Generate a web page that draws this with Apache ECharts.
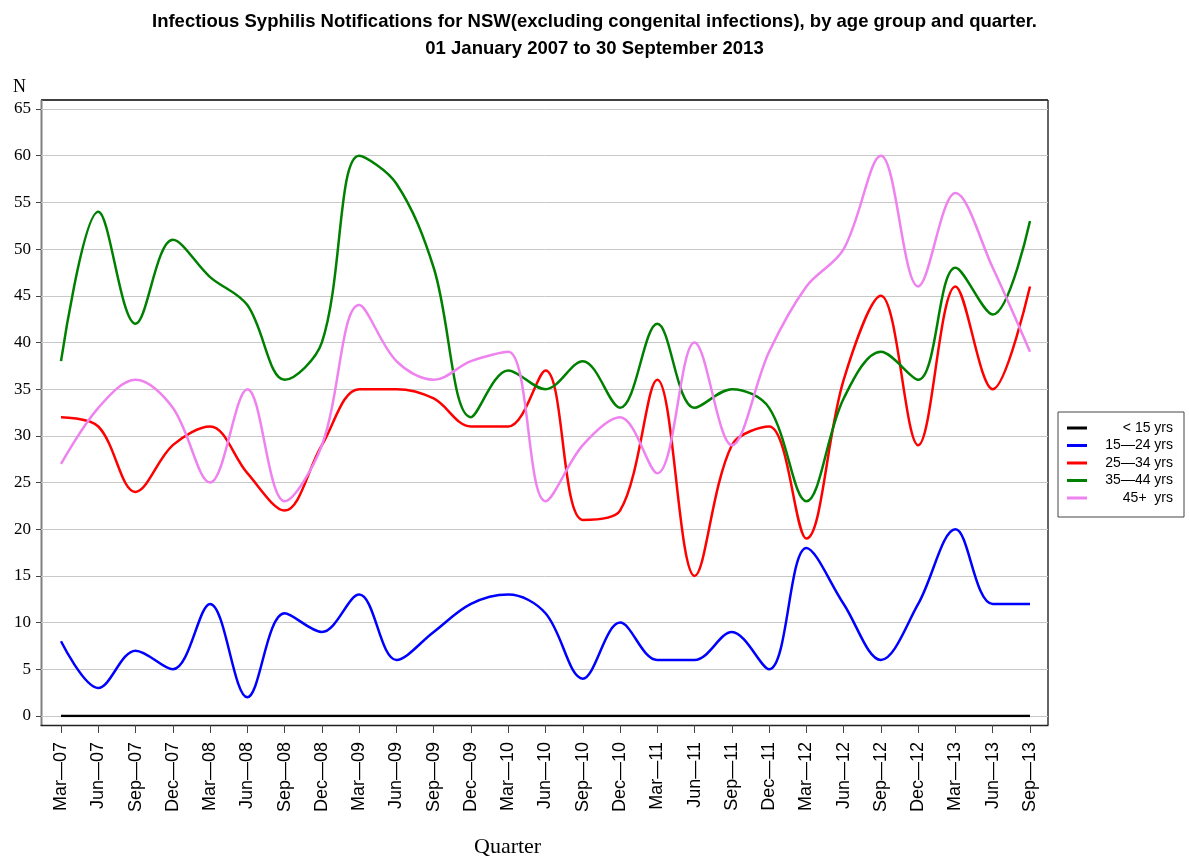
<!DOCTYPE html>
<html>
<head>
<meta charset="utf-8">
<title>Infectious Syphilis Notifications for NSW</title>
<script src="https://cdn.jsdelivr.net/npm/echarts@6/dist/echarts.min.js"></script>
<style>
    html, body { margin: 0; padding: 0; background: #fff; }
    #chart { width: 1189px; height: 859px; }
</style>
</head>
<body>
<div id="chart"></div>
<script>
    // quarters, Mar-07 .. Sep-13
    const quarters = [
        'Mar—07', 'Jun—07', 'Sep—07', 'Dec—07',
        'Mar—08', 'Jun—08', 'Sep—08', 'Dec—08',
        'Mar—09', 'Jun—09', 'Sep—09', 'Dec—09',
        'Mar—10', 'Jun—10', 'Sep—10', 'Dec—10',
        'Mar—11', 'Jun—11', 'Sep—11', 'Dec—11',
        'Mar—12', 'Jun—12', 'Sep—12', 'Dec—12',
        'Mar—13', 'Jun—13', 'Sep—13'
    ];

    const ageGroups = ['< 15 yrs', '15—24 yrs', '25—34 yrs', '35—44 yrs', '45+  yrs'];
    const under15 = [0, 0, 0, 0, 0, 0, 0, 0, 0, 0, 0, 0, 0, 0, 0, 0, 0, 0, 0, 0, 0, 0, 0, 0, 0, 0, 0];
    const age15to24 = [8, 3, 7, 5, 12, 2, 11, 9, 13, 6, 9, 12, 13, 11, 4, 10, 6, 6, 9, 5, 18, 12, 6, 12, 20, 12, 12];
    const age25to34 = [32, 31, 24, 29, 31, 26, 22, 29, 35, 35, 34, 31, 31, 37, 21, 22, 36, 15, 29, 31, 19, 36, 45, 29, 46, 35, 46];
    const age35to44 = [38, 54, 42, 51, 47, 44, 36, 40, 60, 57, 48, 32, 37, 35, 38, 33, 42, 33, 35, 33, 23, 34, 39, 36, 48, 43, 53];
    const age45plus = [27, 33, 36, 33, 25, 35, 23, 29, 44, 38, 36, 38, 39, 23, 29, 32, 26, 40, 29, 39, 46, 50, 60, 46, 56, 48, 39];
    const colors = ['#000000', '#0000ff', '#ff0000', '#008000', '#ee82ee'];

    const allSeries = [under15, age15to24, age25to34, age35to44, age45plus];
    const tickIdx = quarters.map((q, i) => i);
    const toPoints = arr => arr.map((v, i) => [i, v]);

    const sans = 'Liberation Sans, Arial, sans-serif';
    const serif = 'Liberation Serif, Times New Roman, serif';

    const chart = echarts.init(document.getElementById('chart'));
    const option = {
        animation: false,
        backgroundColor: '#fff',
        title: {
            text: 'Infectious Syphilis Notifications for NSW(excluding congenital infections), by age group and quarter.\n01 January 2007 to 30 September 2013',
            left: 'center',
            top: 3,
            textStyle: {
                fontFamily: sans,
                fontWeight: 'bold',
                fontSize: 18.5,
                lineHeight: 27,
                color: '#000'
            }
        },
        legend: {
            orient: 'vertical',
            left: 1058,
            top: 412,
            padding: [9, 11, 12, 9],
            borderColor: '#444',
            borderWidth: 1,
            icon: 'rect',
            itemWidth: 20,
            itemHeight: 3,
            itemGap: 3.5,
            itemTextGap: 5,
            formatter: name => '{r|' + name + '}',
            textStyle: {
                color: '#000',
                fontFamily: sans,
                fontSize: 14,
                lineHeight: 14,
                rich: {
                    r: { width: 81, align: 'right', fontFamily: sans, fontSize: 14, lineHeight: 14, color: '#000' }
                }
            },
            data: ageGroups
        },
        grid: { left: 41, right: 141, top: 109, bottom: 143 },
        xAxis: {
            type: 'value',
            min: -0.537,
            max: 26.483,
            offset: 9,
            axisLine: { onZero: false, lineStyle: { color: '#222', width: 1.3 } },
            axisTick: { length: 8, customValues: tickIdx, lineStyle: { color: '#444' } },
            axisLabel: {
                customValues: tickIdx,
                rotate: 90,
                margin: 17,
                formatter: v => quarters[v],
                fontFamily: sans,
                fontSize: 18,
                color: '#000'
            },
            splitLine: { show: false }
        },
        yAxis: {
            type: 'value',
            min: 0,
            max: 65,
            interval: 5,
            axisLine: { show: false, onZero: false },
            axisTick: { show: true, length: 5, lineStyle: { color: '#444' } },
            axisLabel: { fontFamily: serif, fontSize: 17, color: '#000', margin: 10 },
            splitLine: { lineStyle: { color: '#c8c8c8', width: 1 } }
        },
        graphic: [
            { type: 'line', shape: { x1: 41, y1: 100, x2: 1048, y2: 100 }, style: { stroke: '#000', lineWidth: 1.5 } },
            { type: 'line', shape: { x1: 1048, y1: 100, x2: 1048, y2: 725 }, style: { stroke: '#333', lineWidth: 1.5 } },
            { type: 'line', shape: { x1: 41.5, y1: 100, x2: 41.5, y2: 725 }, style: { stroke: '#808080', lineWidth: 2 } },
            { type: 'text', x: 13, y: 78, style: { text: 'N', font: '18px ' + serif, fill: '#000' } },
            { type: 'text', x: 474, y: 836, style: { text: 'Quarter', font: '22px ' + serif, fill: '#000' } }
        ],
        series: ageGroups.map((name, i) => ({
            name: name,
            type: 'line',
            data: toPoints(allSeries[i]),
            smooth: 0.35,
            showSymbol: false,
            symbol: 'none',
            lineStyle: { color: colors[i], width: 2.5 },
            itemStyle: { color: colors[i] }
        }))
    };
    chart.setOption(option);
</script>
</body>
</html>
